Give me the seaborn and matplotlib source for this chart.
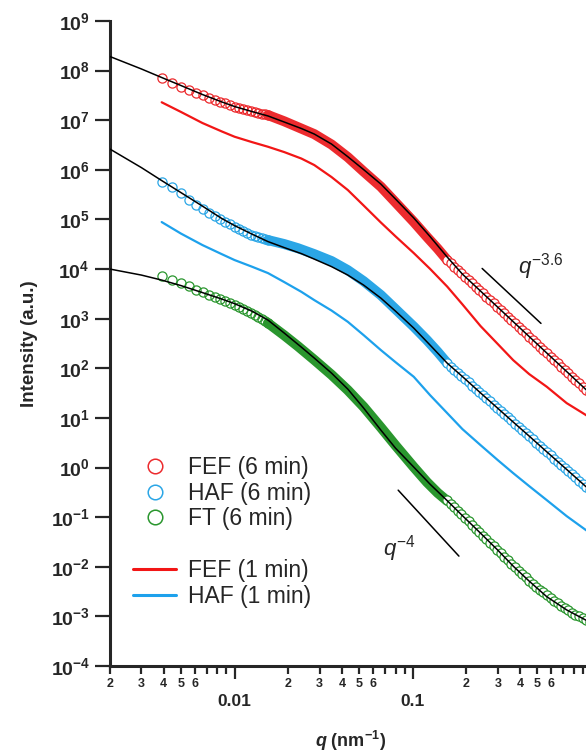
import numpy as np
import matplotlib
matplotlib.use("Agg")
import matplotlib.pyplot as plt
import seaborn as sns
from matplotlib.lines import Line2D
from matplotlib.ticker import FixedLocator, FuncFormatter, NullLocator

# ---------------- data ----------------
# 6 min data, low-q distinct circles
q_low = [0.0039, 0.00445, 0.0050, 0.00555, 0.0061, 0.00665, 0.0072, 0.00775, 0.0083,
         0.00885, 0.0094, 0.0100, 0.0106, 0.0112, 0.0118, 0.0124, 0.0130, 0.0136,
         0.0142, 0.0148, 0.0154]
fef6_low = [7.19e7, 5.70e7, 4.73e7, 4.06e7, 3.56e7, 3.18e7, 2.87e7, 2.61e7, 2.38e7,
            2.19e7, 2.02e7, 1.87e7, 1.76e7, 1.68e7, 1.59e7, 1.51e7, 1.45e7, 1.39e7,
            1.35e7, 1.31e7, 1.27e7]
haf6_low = [5.78e5, 4.50e5, 3.40e5, 2.52e5, 2.00e5, 1.64e5, 1.38e5, 1.18e5, 1.03e5,
            8.96e4, 7.98e4, 7.14e4, 6.40e4, 5.81e4, 5.32e4, 4.84e4, 4.62e4, 4.37e4,
            4.16e4, 3.99e4, 3.85e4]
ft6_low = [7.22e3, 6.00e3, 5.15e3, 4.46e3, 3.86e3, 3.41e3, 3.05e3, 2.74e3, 2.48e3,
           2.25e3, 2.06e3, 1.88e3, 1.71e3, 1.56e3, 1.42e3, 1.30e3, 1.18e3, 1.07e3,
           968, 887, 815]

# 6 min data, dense band region
q_band = [0.0154, 0.019, 0.0227, 0.028, 0.035, 0.0432, 0.053, 0.0662, 0.080,
          0.1013, 0.120, 0.138, 0.156]
fef6_band = [1.27e7, 9.51e6, 7.24e6, 5.25e6, 3.24e6, 1.80e6, 9.23e5, 4.57e5, 2.21e5,
             8.93e4, 4.47e4, 2.57e4, 1.52e4]
haf6_band = [3.84e4, 3.19e4, 2.63e4, 2.00e4, 1.45e4, 9.5e3, 5.7e3, 2.99e3, 1.56e3,
             692, 372, 214, 127]
ft6_band = [815, 462, 278, 148, 74.1, 36.3, 16.7, 6.43, 2.79, 1.02, 0.509, 0.308, 0.213]

# 6 min data, high-q range
q_high = [0.156, 0.163, 0.171, 0.179, 0.1875, 0.196, 0.2056, 0.215, 0.2254, 0.236,
          0.247, 0.259, 0.271, 0.284, 0.297, 0.311, 0.326, 0.341, 0.357, 0.374,
          0.392, 0.410, 0.430, 0.450, 0.471, 0.493, 0.516, 0.541, 0.566, 0.593,
          0.621, 0.650, 0.681, 0.713, 0.746, 0.782, 0.818, 0.857, 0.897, 0.940, 0.984]
fef6_high = [1.52e4, 1.30e4, 1.11e4, 9.55e3, 8.18e3, 7.01e3, 6.00e3, 5.14e3, 4.41e3,
             3.78e3, 3.24e3, 2.77e3, 2.38e3, 2.04e3, 1.75e3, 1.50e3, 1.28e3, 1.10e3,
             940, 805, 690, 592, 507, 435, 372, 319, 273, 234, 200, 172, 147, 126,
             108, 92.7, 79.4, 68.1, 58.2, 49.9, 42.8, 36.6, 31.4]
haf6_high = [126, 108, 93.6, 80.8, 69.8, 60.3, 52.0, 44.9, 38.7, 33.4, 28.8, 24.9,
             21.5, 18.6, 16.0, 13.8, 11.9, 10.3, 8.90, 7.68, 6.63, 5.72, 4.94, 4.27,
             3.68, 3.18, 2.74, 2.37, 2.04, 1.77, 1.52, 1.32, 1.14, 0.980, 0.846,
             0.730, 0.631, 0.544, 0.470, 0.406, 0.350]
ft6_high = [0.220, 0.187, 0.158, 0.134, 0.114, 0.0966, 0.0818, 0.0695, 0.0589, 0.0500,
            0.0424, 0.0360, 0.0305, 0.0258, 0.0219, 0.0186, 0.0158, 0.0134, 0.0115,
            9.77e-3, 8.36e-3, 7.16e-3, 6.14e-3, 5.28e-3, 4.57e-3, 3.96e-3, 3.46e-3,
            3.03e-3, 2.67e-3, 2.33e-3, 2.05e-3, 1.82e-3, 1.62e-3, 1.46e-3, 1.32e-3,
            1.19e-3, 1.09e-3, 9.95e-4, 9.10e-4, 8.36e-4, 7.69e-4]

# 1 min curves
q_1min = [0.0039, 0.0050, 0.0066, 0.0085, 0.0100, 0.0125, 0.0154, 0.019, 0.0237,
          0.028, 0.035, 0.0432, 0.053, 0.0662, 0.080, 0.1013, 0.125, 0.156, 0.19,
          0.24, 0.30, 0.366, 0.45, 0.565, 0.73, 0.938, 1.0]
fef1 = [2.30e7, 1.47e7, 8.79e6, 5.92e6, 4.65e6, 3.63e6, 2.92e6, 2.28e6, 1.69e6,
        1.25e6, 7.16e5, 3.92e5, 1.91e5, 8.69e4, 4.57e4, 2.10e4, 1.01e4, 4.44e3,
        1.94e3, 710, 308, 146, 76.4, 42.4, 19.9, 11.4, 9.9]
haf1 = [8.87e4, 5.20e4, 3.05e4, 1.99e4, 1.52e4, 1.12e4, 8.30e3, 5.47e3, 3.48e3,
        2.37e3, 1.46e3, 865, 466, 233, 133, 67.4, 28.8, 12.5, 5.94, 2.83, 1.41,
        0.771, 0.422, 0.220, 0.105, 0.0547, 0.0475]

# model fits (black)
q_fit = [0.002, 0.003, 0.0039, 0.005, 0.0066, 0.0085, 0.0100, 0.0125, 0.0154, 0.019,
         0.0237, 0.028, 0.035, 0.0432, 0.053, 0.0662, 0.080, 0.1013, 0.125, 0.156,
         0.19, 0.24, 0.30, 0.366, 0.45, 0.565, 0.73, 0.938, 1.0]
fef_fit = [1.92e8, 1.08e8, 7.26e7, 5.01e7, 3.30e7, 2.33e7, 1.89e7, 1.50e7, 1.22e7,
           9.20e6, 6.81e6, 5.27e6, 3.31e6, 1.84e6, 1.01e6, 5.17e5, 2.58e5, 1.07e5,
           4.52e4, 1.75e4, 7.89e3, 3.60e3, 1.70e3, 871, 436, 203, 86.1, 37.1, 29.8]
haf_fit = [2.62e6, 1.11e6, 6.08e5, 3.48e5, 1.86e5, 1.04e5, 7.53e4, 5.08e4, 3.58e4,
           2.71e4, 2.05e4, 1.59e4, 1.12e4, 7.57e3, 4.75e3, 2.60e3, 1.42e3, 646, 294,
           127, 68.1, 31.9, 15.6, 8.26, 4.30, 2.07, 0.916, 0.410, 0.334]
ft_fit = [1.0e4, 7.57e3, 6.00e3, 4.65e3, 3.36e3, 2.48e3, 2.01e3, 1.42e3, 937, 513,
          267, 161, 80.0, 38.1, 15.8, 5.68, 2.46, 1.02, 0.462, 0.215, 0.107, 0.0475,
          0.0216, 0.0103, 5.13e-3, 2.49e-3, 1.35e-3, 8.37e-4, 7.46e-4]

# power-law guide lines
q_guide36 = [0.245, 0.524]
i_guide36 = [1.03e4, 804]
q_guide4 = [0.0828, 0.1815]
i_guide4 = [0.35, 0.0164]

legend_labels = ["FEF (6 min)", "HAF (6 min)", "FT (6 min)", " ", "FEF (1 min)", "HAF (1 min)"]
y_ticks = [1e-4, 1e-3, 1e-2, 1e-1, 1e0, 1e1, 1e2, 1e3, 1e4, 1e5, 1e6, 1e7, 1e8, 1e9]
x_major_ticks = [0.01, 0.1, 1.0]
x_major_labels = ["0.01", "0.1", "1"]
minor_labelled = [2, 3, 4, 5, 6]

# ---------------- style ----------------
sns.set_style("ticks")
plt.rcParams["font.family"] = ["Liberation Sans", "DejaVu Sans"]
plt.rcParams["mathtext.fontset"] = "custom"
plt.rcParams["mathtext.rm"] = "Liberation Sans"
plt.rcParams["mathtext.it"] = "Liberation Sans:italic"
plt.rcParams["mathtext.bf"] = "Liberation Sans:bold"
try:
    plt.rcParams["mathtext.bfit"] = "Liberation Sans:bold:italic"
except Exception:
    pass

RED_C = "#EC2B2E"
RED_L = "#F21616"
BLUE_C = "#2BA6E6"
BLUE_L = "#1DA1EC"
GREEN_C = "#2A962E"

fig = plt.figure(figsize=(5.86, 7.53), dpi=100)
ax = fig.add_axes([110 / 586, 1 - 666 / 753, 481 / 586, 645 / 753])
ax.set_xscale("log")
ax.set_yscale("log")

# 1-min lines
for q, I, c in [(q_1min, fef1, RED_L), (q_1min, haf1, BLUE_L)]:
    sns.lineplot(x=q, y=I, ax=ax, color=c, lw=1.6, estimator=None, sort=False,
                 legend=False, zorder=2)

# 6-min data
for (ylow, yband, yhigh, c) in [(fef6_low, fef6_band, fef6_high, RED_C),
                                (haf6_low, haf6_band, haf6_high, BLUE_C),
                                (ft6_low, ft6_band, ft6_high, GREEN_C)]:
    sns.lineplot(x=q_band, y=yband, ax=ax, color=c, lw=7.2, estimator=None,
                 sort=False, legend=False, zorder=3, solid_capstyle="round")
    sns.lineplot(x=q_low, y=ylow, ax=ax, color=c, marker="o", markersize=6.6,
                 markerfacecolor="none", markeredgecolor=c, markeredgewidth=0.9,
                 linestyle="none", estimator=None, sort=False, legend=False, zorder=3)
    sns.lineplot(x=q_high, y=yhigh, ax=ax, color=c, marker="o", markersize=6.6,
                 markerfacecolor="white", markeredgecolor=c, markeredgewidth=0.9,
                 linestyle="none", estimator=None, sort=False, legend=False, zorder=4)

# fits
for I in [fef_fit, haf_fit, ft_fit]:
    sns.lineplot(x=q_fit, y=I, ax=ax, color="black", lw=1.1, estimator=None,
                 sort=False, legend=False, zorder=6)

# guide lines
sns.lineplot(x=q_guide36, y=i_guide36, ax=ax, color="black", lw=1.1,
             estimator=None, sort=False, legend=False, zorder=6)
sns.lineplot(x=q_guide4, y=i_guide4, ax=ax, color="black", lw=1.1,
             estimator=None, sort=False, legend=False, zorder=6)
ax.text(0.391, 8.3e3, r"$\mathit{q^{-3.6}}$", fontsize=16, ha="left", va="baseline")
ax.text(0.0678, 0.0171, r"$\mathit{q^{-4}}$", fontsize=16, ha="left", va="baseline")

# axes
ax.set_xlim(0.002, 1.0)
ax.set_ylim(1e-4, 1e9)
ax.spines["top"].set_visible(False)
ax.spines["right"].set_visible(False)
for s in ["left", "bottom"]:
    ax.spines[s].set_linewidth(2.2)

ax.yaxis.set_major_locator(FixedLocator(y_ticks))
ax.yaxis.set_minor_locator(NullLocator())
ax.yaxis.set_major_formatter(FuncFormatter(
    lambda v, p: r"$\mathbf{10^{%d}}$" % int(round(np.log10(v)))))

minor_x = [m * 10.0 ** k for k in (-3, -2, -1) for m in range(2, 10)]
ax.xaxis.set_major_locator(FixedLocator(x_major_ticks))
ax.xaxis.set_minor_locator(FixedLocator(minor_x))
ax.xaxis.set_major_formatter(FuncFormatter(
    lambda v, p: x_major_labels[x_major_ticks.index(min(x_major_ticks, key=lambda t: abs(t - v)))]))


def minor_fmt(v, p):
    m = int(round(v / 10 ** np.floor(np.log10(v) + 1e-9)))
    return str(m) if m in minor_labelled else ""


ax.xaxis.set_minor_formatter(FuncFormatter(minor_fmt))

ax.tick_params(axis="y", which="major", direction="out", length=10.5, width=1.6,
               labelsize=14, pad=4)
ax.tick_params(axis="x", which="major", direction="out", length=9.5, width=1.6,
               labelsize=12.5, pad=11)
ax.tick_params(axis="x", which="minor", direction="out", length=6, width=1.6,
               labelsize=9, pad=2.5)
for lab in ax.get_xticklabels(which="both"):
    lab.set_fontweight("bold")

ax.set_ylabel("Intensity (a.u.)", fontsize=13.5, fontweight="bold", labelpad=9)
ax.set_xlabel(r"$\mathbfit{q}$ (nm$^{\mathbf{-1}}$)", fontsize=13, fontweight="bold",
              labelpad=14)

# legend
handles = [
    Line2D([], [], ls="none", marker="o", ms=10.5, mfc="none", mec=RED_C, mew=1.1),
    Line2D([], [], ls="none", marker="o", ms=10.5, mfc="none", mec=BLUE_C, mew=1.1),
    Line2D([], [], ls="none", marker="o", ms=10.5, mfc="none", mec=GREEN_C, mew=1.1),
    Line2D([], [], ls="none"),
    Line2D([], [], color=RED_L, lw=2.2),
    Line2D([], [], color=BLUE_L, lw=2.2),
]
FS = 16.5
fs_px = FS * 100 / 72
leg = ax.legend(handles, legend_labels, loc="upper left",
                bbox_to_anchor=(133 / 586, 1 - 456 / 753), bbox_transform=fig.transFigure,
                frameon=False, fontsize=FS, borderpad=0, borderaxespad=0,
                handlelength=43 / fs_px, handletextpad=12 / fs_px, labelspacing=0.12)

fig.savefig("out.png", dpi=100)
